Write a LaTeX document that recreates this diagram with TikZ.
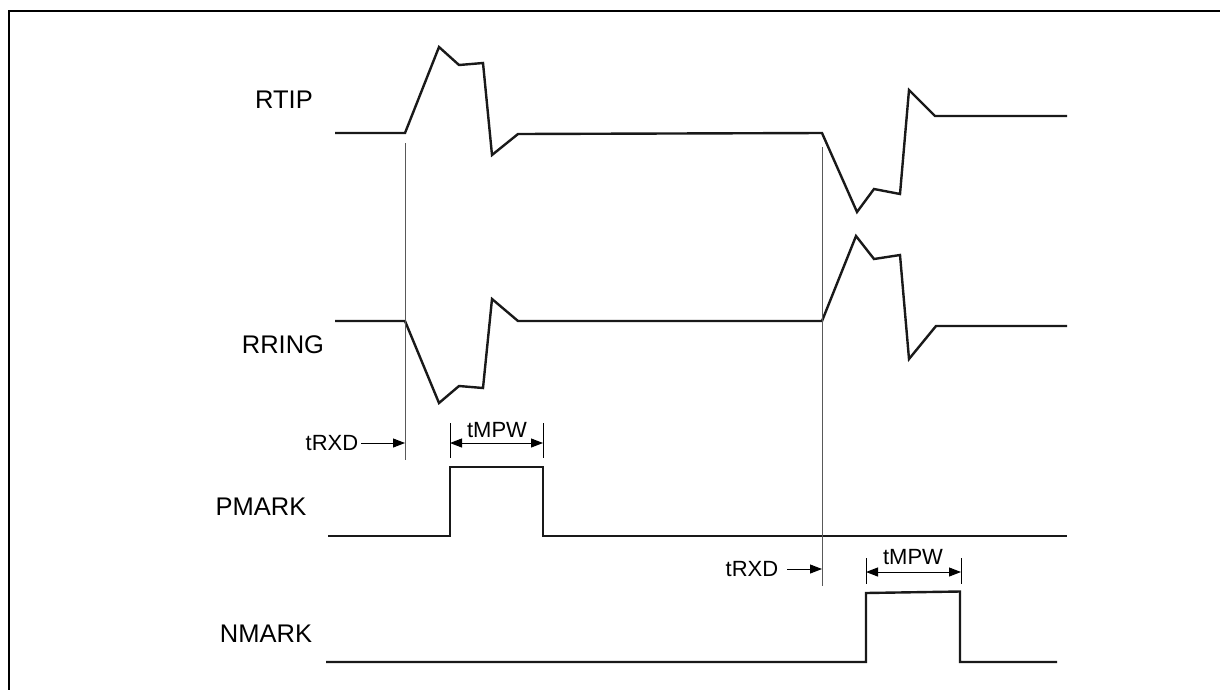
\documentclass[tikz,border=0pt]{standalone}
\usepackage{fontspec}
\setmainfont{Liberation Sans}
\usetikzlibrary{arrows.meta}
\begin{document}
\begin{tikzpicture}[x=1pt,y=-1pt,
  wave/.style={line width=2.4pt,line join=miter,black!90},
  guide/.style={line width=1pt,black!65},
  sig/.style={font=\fontsize{25.5}{30}\selectfont,inner sep=0pt},
  lbl/.style={font=\fontsize{22}{26}\selectfont,inner sep=0pt},
  dim/.style={line width=1pt,-{Triangle[length=12pt,width=9pt]}},
  ddim/.style={line width=1pt,{Triangle[length=12pt,width=9pt]}-{Triangle[length=12pt,width=9pt]}},
  frame/.style={line width=2.6pt}]
\useasboundingbox (0,0) rectangle (1220,689);
% frame (right and bottom edges lie outside the picture)
\draw[frame] (9,700) -- (9,11) -- (1235,11);

% signal names
\node[sig] (rtip)  at (284,100) {RTIP};
\node[sig] (rring) at (283,345) {RRING};
\node[sig] (pmark) at (261,507) {PMARK};
\node[sig] (nmark) at (266,634) {NMARK};

% RTIP
\draw[wave] (335,133) -- (405,133) -- (439,47) -- (459,65) -- (483,63) -- (492,155)
  -- (518,134) -- (822,133) -- (857,212) -- (874,189) -- (900,194) -- (909,90)
  -- (935,116) -- (1067,116);
% RRING
\draw[wave] (335,321) -- (405,321) -- (439,403) -- (459,386) -- (483,388) -- (492,299)
  -- (518,321) -- (822,321) -- (856,236) -- (874,259) -- (900,255) -- (909,359)
  -- (936,326) -- (1067,326);
% PMARK
\draw[wave] (328,536) -- (450,536) -- (450,467) -- (543,467) -- (543,536) -- (1067,536);
% NMARK
\draw[wave] (326,662) -- (866,662) -- (866,593) -- (960,591.5) -- (960,662) -- (1057,662);

% guide lines
\coordinate (g1) at (405,143);
\coordinate (g1b) at (405,460);
\coordinate (g2) at (822,147);
\coordinate (g2b) at (822,586);
\draw[guide] (g1) -- (g1b);
\draw[guide] (g2) -- (g2b);

% tRXD 1
\node[lbl] (trxd1) at (332,443) {tRXD};
\coordinate (a1) at (405,443);
\draw[dim] ([xshift=3pt]trxd1.east) -- (a1);
% tMPW 1
\coordinate (m1l) at (450,423);
\coordinate (m1r) at (543,423);
\draw[guide,black] (m1l) -- (450,458);
\draw[guide,black] (m1r) -- (543,458);
\draw[ddim] (450,443) -- (543,443);
\node[lbl] (tmpw1) at (497,430) {tMPW};

% tRXD 2
\node[lbl] (trxd2) at (752,569) {tRXD};
\coordinate (a2) at (822,569);
\draw[dim] ([xshift=9pt]trxd2.east) -- (a2);
% tMPW 2
\coordinate (m2l) at (866,558);
\coordinate (m2r) at (961,558);
\draw[guide,black] (m2l) -- (866,584);
\draw[guide,black] (m2r) -- (961,584);
\draw[ddim] (866,572) -- (961,572);
\node[lbl] (tmpw2) at (913,557) {tMPW};
\end{tikzpicture}
\end{document}
